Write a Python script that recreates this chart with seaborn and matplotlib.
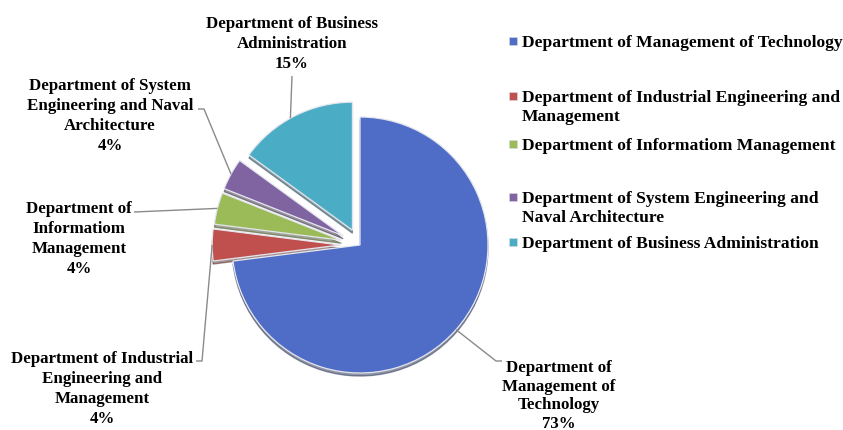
import math
import matplotlib
matplotlib.use("Agg")
import matplotlib.pyplot as plt
import seaborn as sns

# ---- data ----
departments = [
    "Department of Management of Technology",
    "Department of Industrial Engineering and Management",
    "Department of Informatiom Management",
    "Department of System Engineering and Naval Architecture",
    "Department of Business Administration",
]
shares = [73, 4, 4, 4, 15]
share_labels = ["73%", "4%", "4%", "4%", "15%"]
pie_label_names = [
    "Department of\nManagement of\nTechnology",
    "Department of Industrial\nEngineering and\nManagement",
    "Department of\nInformatiom\nManagement",
    "Department of System\nEngineering and Naval\nArchitecture",
    "Department of Business\nAdministration",
]
legend_names = [
    "Department of Management of Technology",
    "Department of Industrial Engineering and\nManagement",
    "Department of Informatiom Management",
    "Department of System Engineering and\nNaval Architecture",
    "Department of Business Administration",
]
colors = ["#4F6DC6", "#C0504D", "#9BBB59", "#8064A2", "#4BACC6"]

# ---- style ----
sns.set_theme(style="white")
plt.rcParams["font.family"] = ["Liberation Serif", "DejaVu Serif"]
palette = sns.color_palette(colors)

W, H = 843, 431
fig = plt.figure(figsize=(W / 100, H / 100), dpi=100)
ax = fig.add_axes([0, 0, 1, 1])

R = 128
CX, CY = 360, H - 246
explode_frac = [0.0, 0.155, 0.15, 0.15, 0.13]

wedges, _ = ax.pie(
    shares,
    colors=palette,
    startangle=90,
    counterclock=False,
    explode=[e * R for e in explode_frac],
    center=(CX, CY),
    radius=R,
    wedgeprops=dict(edgecolor="#E4E6EE", linewidth=0.9),
    shadow=dict(ox=0, oy=-2.2, shade=0.6),
)
ax.set_xlim(0, W)
ax.set_ylim(0, H)
ax.set_aspect("auto")
ax.axis("off")

def anchor(w, dtheta=0.0):
    mid = math.radians((w.theta1 + w.theta2) / 2 + dtheta)
    cx, cy = w.center
    return cx + w.r * math.cos(mid), cy + w.r * math.sin(mid)

lab_fs = 12.2
line_col = "#8A8A8A"

# label layout: text center x, first-line center y (image px), line spacing, leader start points
label_layout = [
    dict(x=559, y=367, ls=1.22, path=[(502, 362), (496, 362)], dth=0),
    dict(x=102, y=358, ls=1.33, path=[(196, 362), (202, 362)], dth=0),
    dict(x=79, y=208, ls=1.33, path=[(134, 213)], dth=0),
    dict(x=110, y=85, ls=1.33, path=[(198, 110), (204, 110)], dth=0),
    dict(x=292, y=23, ls=1.33, path=[(292, 77)], dth=2),
]

for w, name, pct, lay in zip(wedges, pie_label_names, share_labels, label_layout):
    ax.text(lay["x"], H - lay["y"] + 0.42 * lab_fs * 1.389, name + "\n" + pct,
            ha="center", va="top", fontsize=lab_fs, fontweight="bold",
            color="black", linespacing=lay["ls"])
    ax_pt = anchor(w, lay["dth"])
    xs = [p[0] for p in lay["path"]] + [ax_pt[0]]
    ys = [H - p[1] for p in lay["path"]] + [ax_pt[1]]
    ax.plot(xs, ys, color=line_col, lw=1.0, solid_capstyle="butt")

# ---- legend (manual, Excel-like spacing) ----
leg_fs = 12.6
leg_first_line_y = [42, 97, 145, 198, 243]
for name, col, ly in zip(legend_names, palette, leg_first_line_y):
    ax.scatter([513], [H - ly], marker="s", s=40, color=col,
               edgecolor="#DDDDDD", linewidth=0.4, zorder=5)
    ax.text(522, H - ly + 0.42 * leg_fs * 1.389, name, ha="left", va="top",
            fontsize=leg_fs, fontweight="bold", color="black", linespacing=1.25)

fig.savefig("out.png", dpi=100)
